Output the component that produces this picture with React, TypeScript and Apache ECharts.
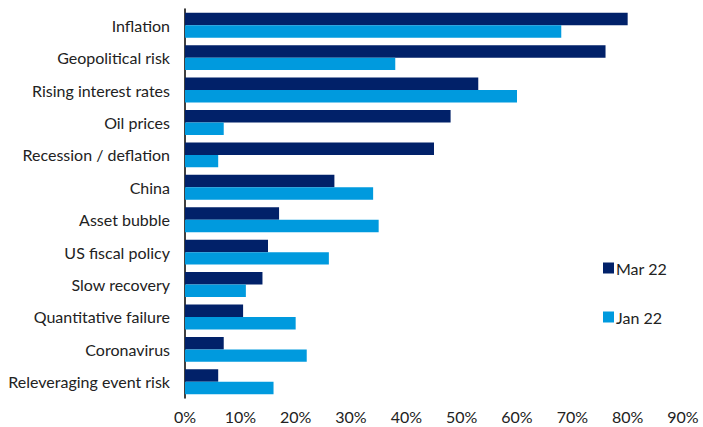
import React, { useEffect, useRef } from "react";
import * as echarts from "echarts";

const categories = [
  "Inflation",
  "Geopolitical risk",
  "Rising interest rates",
  "Oil prices",
  "Recession / deflation",
  "China",
  "Asset bubble",
  "US fiscal policy",
  "Slow recovery",
  "Quantitative failure",
  "Coronavirus",
  "Releveraging event risk",
];
const mar22 = [80, 76, 53, 48, 45, 27, 17, 15, 14, 10.5, 7, 6];
const jan22 = [68, 38, 60, 7, 6, 34, 35, 26, 11, 20, 22, 16];
const xTicks = [0, 10, 20, 30, 40, 50, 60, 70, 80, 90];

export default function App() {
  const ref = useRef<HTMLDivElement>(null);
  useEffect(() => {
    if (!ref.current) return;
    const chart = echarts.init(ref.current, null, { renderer: "svg" });
    const font = "Lato, 'Open Sans', sans-serif";
    chart.setOption({
      animation: false,
      textStyle: { fontFamily: font },
      grid: { left: 185, right: 20, top: 9, bottom: 29, containLabel: false },
      legend: {
        orient: "vertical",
        left: 603,
        top: 260,
        padding: 0,
        itemWidth: 11,
        itemHeight: 11,
        itemGap: 33,
        icon: "rect",
        textStyle: { fontSize: 16, color: "#222", fontFamily: font, padding: [0, 0, 0, -3] },
        data: ["Mar 22", "Jan 22"],
      },
      xAxis: {
        type: "value",
        min: xTicks[0],
        max: xTicks[xTicks.length - 1],
        interval: 10,
        axisLine: { show: false },
        axisTick: { show: false },
        splitLine: { show: false },
        axisLabel: {
          formatter: (v: number) => `${v}%`,
          fontSize: 16,
          color: "#222",
          margin: 10,
          fontFamily: font,
        },
      },
      yAxis: {
        type: "category",
        data: categories,
        inverse: true,
        axisLine: { show: true, lineStyle: { color: "#000", width: 1.5 } },
        axisTick: { show: false },
        axisLabel: { fontSize: 16, color: "#222", margin: 15, fontFamily: font },
      },
      series: [
        {
          name: "Mar 22",
          type: "bar",
          data: mar22,
          itemStyle: { color: "#012169" },
          barGap: "0%",
          barCategoryGap: "23%",
        },
        {
          name: "Jan 22",
          type: "bar",
          data: jan22,
          itemStyle: { color: "#009ADE" },
          barGap: "0%",
          barCategoryGap: "23%",
        },
      ],
    });
    return () => chart.dispose();
  }, []);
  return <div ref={ref} style={{ width: 703, height: 427, position: "absolute", left: 0, top: 0, background: "#fff" }} />;
}
